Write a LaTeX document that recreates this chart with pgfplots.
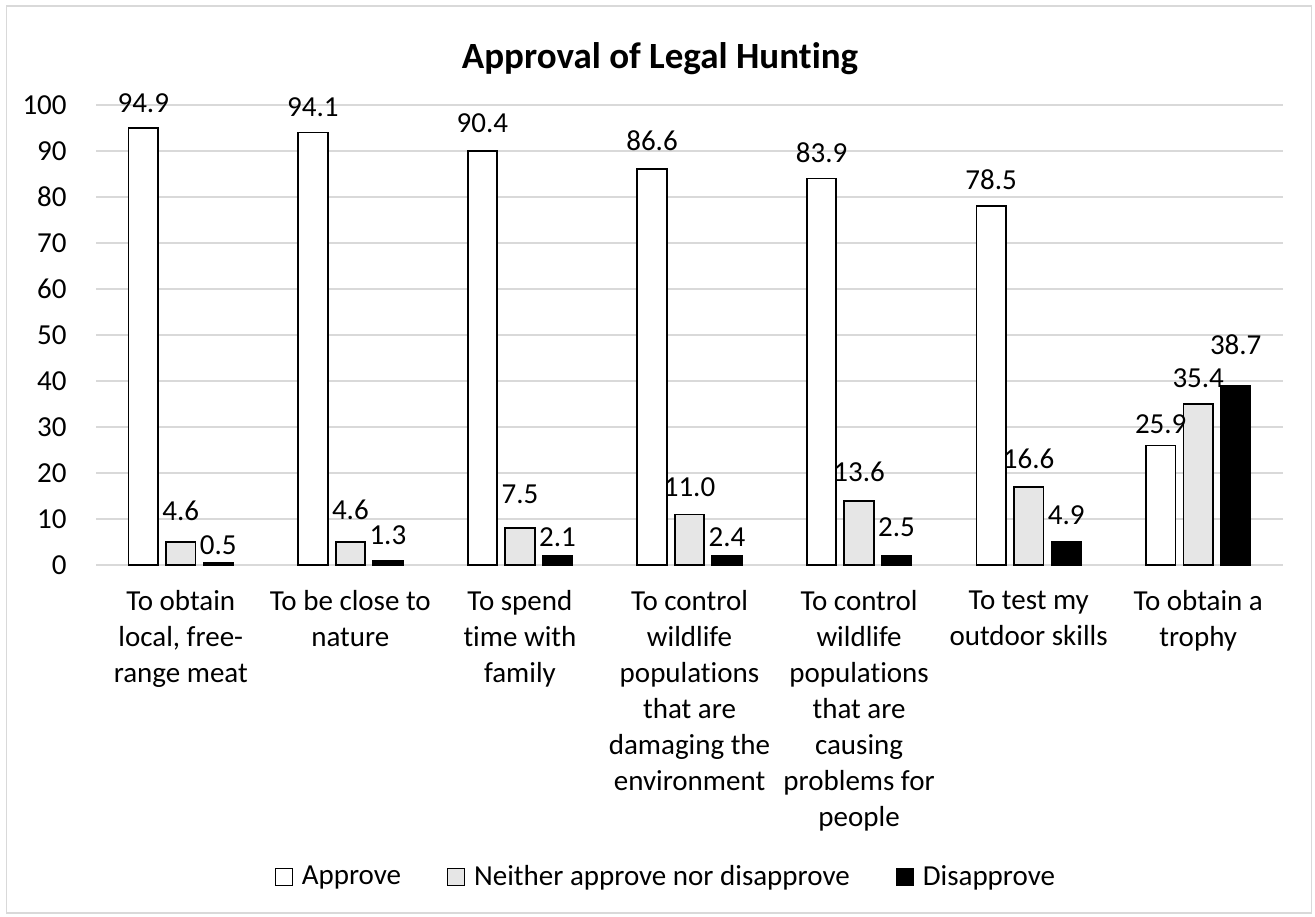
\documentclass[border=0pt]{standalone}
\usepackage{pgfplots}
\pgfplotsset{compat=1.18}
\usepackage{pgfplotstable}
\usepackage{fontspec}
\setmainfont{Carlito}[Ligatures=NoCommon]
\definecolor{gridgray}{RGB}{217,217,217}
\definecolor{neither}{RGB}{230,230,230}

% x, drawn height, height of the label centre, printed label
\pgfplotstableread{
x y ly lab
0 95 100.4 94.9
1 94 99.6 94.1
2 90 96.1 90.4
3 86 92.2 86.6
4 84 89.6 83.9
5 78 83.7 78.5
6 26 30.5 25.9
}\approve
\pgfplotstableread{
x y ly lab
0 5 11.8 4.6
1 5 12.0 4.6
2 8 15.4 7.5
3 11 17.0 11.0
4 14 20.2 13.6
5 17 23.0 16.6
6 35 40.6 35.4
}\neither
\pgfplotstableread{
x y ly lab
0 0.5 4.3 0.5
1 1 6.4 1.3
2 2 6.0 2.1
3 2 6.0 2.4
4 2 8.3 2.5
5 5 10.9 4.9
6 39 47.8 38.7
}\disapprove

\pgfplotsset{
  labelplot/.style={
    draw=none, fill=none, forget plot,
    nodes near coords,
    point meta=explicit symbolic,
    nodes near coords style={font=\fontsize{14.5}{18}\selectfont, anchor=center,
      inner sep=0pt, text=black},
  }
}

\begin{document}
\begin{tikzpicture}
\path[use as bounding box] (0pt,0pt) rectangle (657.5pt,458pt);
\draw[gridgray, line width=0.75pt] (3.25pt,1.5pt) rectangle (655.75pt,455pt);
\node[font=\fontsize{18.5}{22}\selectfont\bfseries] at (330pt,428.5pt) {Approval of Legal Hunting};

\begin{axis}[
  at={(48pt,175.5pt)}, anchor=south west,
  scale only axis,
  width=593.5pt, height=230pt,
  ybar, bar width=14.75pt,
  xmin=-0.5, xmax=6.5, ymin=0, ymax=100,
  ytick={0,10,...,100},
  xtick={0,...,6},
  xticklabels={
    {To obtain\\local, free-\\range meat},
    {To be close to\\nature},
    {To spend\\time with\\family},
    {To control\\wildlife\\populations\\that are\\damaging the\\environment},
    {To control\\wildlife\\populations\\that are\\causing\\problems for\\people},
    {To test my\\outdoor skills},
    {To obtain a\\trophy}},
  axis line style={draw=none},
  major tick length=0pt,
  ymajorgrids,
  grid style={gridgray, line width=0.9pt},
  clip=false,
  /pgf/number format/assume math mode=true,
  tick label style={font=\fontsize{14.5}{18}\selectfont},
  yticklabel style={inner sep=0pt, xshift=-14.5pt},
  xticklabel style={align=center, inner sep=0pt, anchor=north, yshift=-12.5pt},
  legend columns=3,
  legend style={at={(0.481,-0.678)}, anchor=center, draw=none, fill=none,
    font=\fontsize{14.5}{18}\selectfont,
    /tikz/every even column/.append style={column sep=21pt},
    inner sep=0pt},
  legend image code/.code={%
    \draw[#1, line width=0.6pt] (0pt,-4.25pt) rectangle (8.5pt,4.25pt);
    \path (11pt,0pt);},
]
\addplot[draw=black, fill=white, line width=0.9pt, bar shift=-18.75pt, forget plot] table[x=x, y=y] {\approve};
\addplot[draw=black, fill=neither, line width=0.9pt, bar shift=0pt, forget plot] table[x=x, y=y] {\neither};
\addplot[draw=black, fill=black, line width=0.9pt, bar shift=18.75pt, forget plot] table[x=x, y=y] {\disapprove};
\addplot[labelplot, bar shift=-18.75pt] table[x=x, y=ly, meta=lab] {\approve};
\addplot[labelplot, bar shift=0pt] table[x=x, y=ly, meta=lab] {\neither};
\addplot[labelplot, bar shift=18.75pt] table[x=x, y=ly, meta=lab] {\disapprove};
\addlegendimage{draw=black, fill=white}
\addlegendentry{Approve}
\addlegendimage{draw=black, fill=neither}
\addlegendentry{Neither approve nor disapprove}
\addlegendimage{draw=black, fill=black}
\addlegendentry{Disapprove}
\end{axis}
\end{tikzpicture}
\end{document}
